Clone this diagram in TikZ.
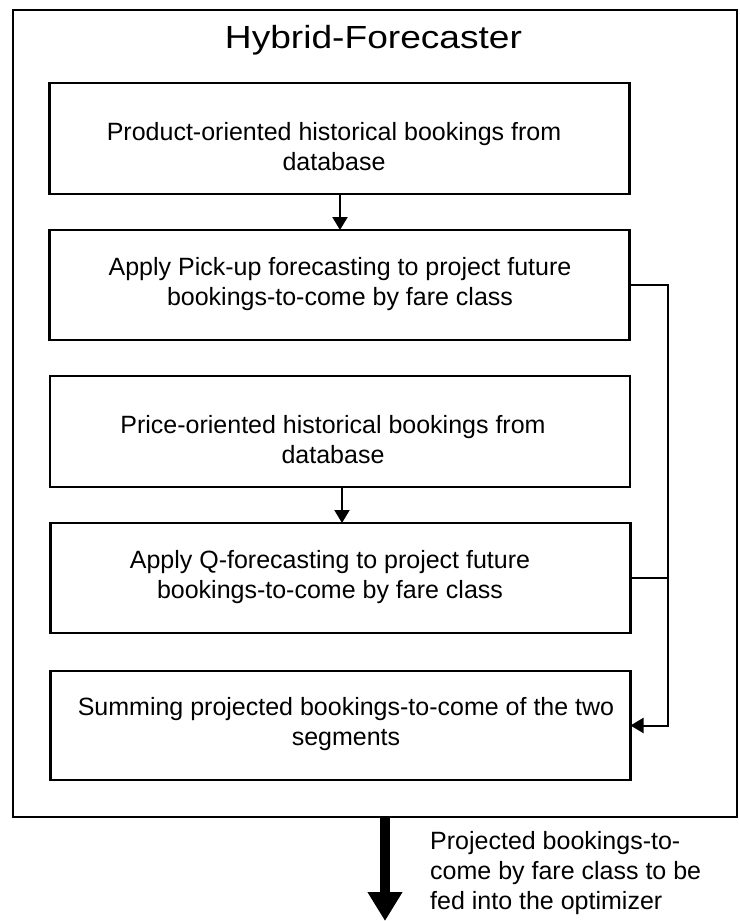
\documentclass[tikz,border=0pt]{standalone}
\usepackage{fontspec}
\setmainfont{Liberation Sans}
\newfontfamily\titlefont{Liberation Sans}[FakeStretch=1.16]
\usetikzlibrary{arrows.meta}

\tikzset{
  frame/.style={draw, line width=2.4pt, inner sep=0pt, outer sep=0pt},
  stepbox/.style={frame, minimum width=580pt, minimum height=110pt},
  boxtext/.style={anchor=north, inner sep=0pt, align=center,
    font=\fontsize{25pt}{30pt}\selectfont},
  conn/.style={line width=2pt},
  smalltip/.style={-{Triangle[width=15pt,length=13pt]}},
  bigarrow/.style={line width=10pt, -{Triangle[width=33pt,length=29pt]}},
}

\begin{document}
\begin{tikzpicture}[x=1pt, y=-1pt]
  \useasboundingbox (0,0) rectangle (739,921);

  % enclosing frame and its title
  \node[frame, minimum width=724pt, minimum height=807pt] (outer) at (375,413.5) {};
  \node[anchor=base, inner sep=0pt, font=\titlefont\fontsize{32pt}{36pt}\selectfont]
    (title) at (373.5,48.5) {Hybrid-Forecaster};

  % process steps
  \node[stepbox, minimum height=111pt] (b1) at (339.5,138.5) {};
  \node[stepbox] (b2) at (339.5,285) {};
  \node[stepbox, minimum height=111pt] (b3) at (340,431.5) {};
  \node[stepbox] (b4) at (340.5,578) {};
  \node[stepbox, minimum height=109pt] (b5) at (340.5,725.5) {};

  \node[boxtext] (t1) at (334,122) {Product-oriented historical bookings from\\database};
  \node[boxtext] (t2) at (340,257.5) {Apply Pick-up forecasting to project future\\bookings-to-come by fare class};
  \node[boxtext] (t3) at (333,415.5) {Price-oriented historical bookings from\\database};
  \node[boxtext] (t4) at (330,550.5) {Apply Q-forecasting to project future\\bookings-to-come by fare class};
  \node[boxtext] (t5) at (346,697.5) {Summing projected bookings-to-come of the two\\segments};

  % vertical links between steps
  \draw[conn, smalltip] (b1.south -| 340,0) -- (b2.north -| 340,0);
  \draw[conn, smalltip] (b3.south -| 342,0) -- (b4.north -| 342,0);

  % side rail collecting both forecasts into the summing step
  \coordinate (rail) at (667.5,0);
  \draw[conn] (b2.east) -- (b2.east -| rail) |- (b4.east);
  \draw[conn, smalltip] (b4.east -| rail) |- (b5.east);

  % output of the forecaster
  \coordinate (out) at (385,921);
  \draw[bigarrow] (outer.south -| out) -- (out);
  \node[anchor=north west, inner sep=0pt, align=left,
    font=\fontsize{25pt}{30pt}\selectfont] (note) at (430,831)
    {Projected bookings-to-\\come by fare class to be\\fed into the optimizer};
\end{tikzpicture}
\end{document}
